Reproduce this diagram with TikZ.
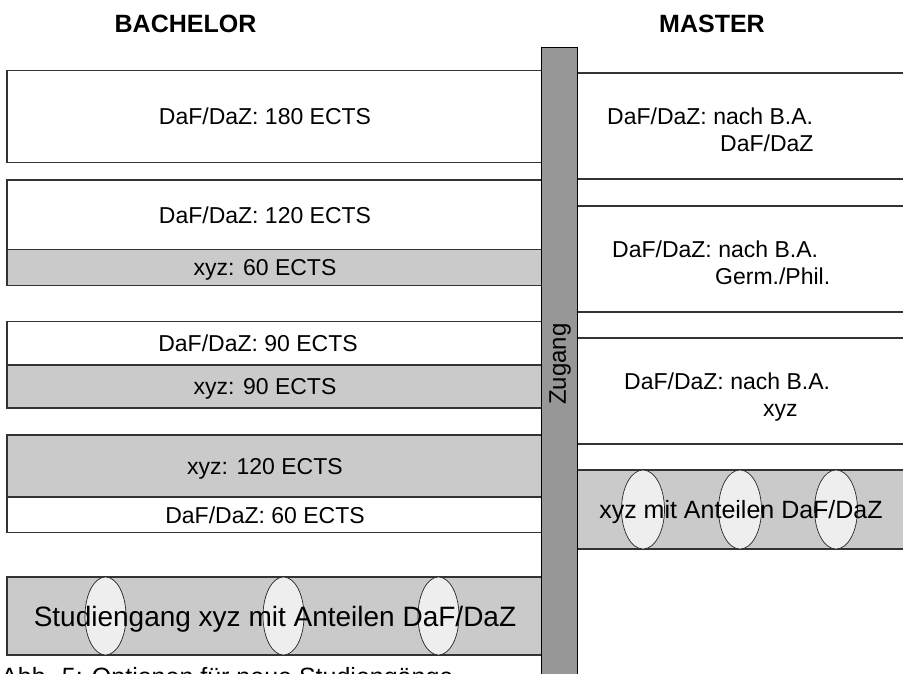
\documentclass[tikz,border=0pt]{standalone}
\usepackage{fontspec}
\setmainfont{Liberation Sans}
\usetikzlibrary{shapes.geometric}
\definecolor{lightgr}{HTML}{CACACA}
\definecolor{bargr}{HTML}{979797}
\definecolor{ovalgr}{HTML}{EEEEEE}
\definecolor{edge}{HTML}{333333}
\begin{document}
\begin{tikzpicture}[x=1pt,y=-1pt,
  wbox/.style={draw=edge,line width=1.3pt,fill=white},
  gbox/.style={draw=edge,line width=1.3pt,fill=lightgr},
  lbl/.style={font=\fontsize{23}{27}\selectfont,inner sep=0pt,anchor=base},
  mlbl/.style={font=\fontsize{23}{27}\selectfont,inner sep=0pt,anchor=base west},
  ttl/.style={font=\fontsize{25}{30}\selectfont\bfseries,inner sep=0pt},
  oval/.style={ellipse,draw=black!85,line width=0.7pt,fill=ovalgr,inner sep=0pt,minimum width=41pt,minimum height=78pt},
  barstyle/.style={draw=black,line width=1pt,fill=bargr}]
\clip (0,0) rectangle (903,673);
\fill[white] (0,0) rectangle (903,673);

% titles
\node[ttl] (tB) at (185.5,24) {BACHELOR};
\node[ttl] (tM) at (712,24) {MASTER};

% ---------- Bachelor ----------
\draw[wbox] (7,70.7) rectangle (560,162.5);
\node[lbl] (b1) at (265,124.8) {DaF/DaZ: 180 ECTS};

\draw[wbox] (7,180) rectangle (560,249.5);
\draw[gbox] (7,249.5) rectangle (560,285.5);
\node[lbl] (b2a) at (265,223) {DaF/DaZ: 120 ECTS};
\node[lbl] (b2b) at (265,275.7) {xyz: 60 ECTS};

\draw[wbox] (7,321.5) rectangle (560,365);
\draw[gbox] (7,365) rectangle (560,408);
\node[lbl] (b3a) at (258,351.5) {DaF/DaZ: 90 ECTS};
\node[lbl] (b3b) at (265,394.7) {xyz: 90 ECTS};

\draw[gbox] (7,435) rectangle (560,497);
\draw[wbox] (7,497) rectangle (560,532.5);
\node[lbl] (b4a) at (265,474.2) {xyz: 120 ECTS};
\node[lbl] (b4b) at (265,523) {DaF/DaZ: 60 ECTS};

\draw[gbox] (7,577) rectangle (560,655);
\node[oval] (e1) at (105.5,616) {};
\node[oval] (e2) at (283.5,616) {};
\node[oval] (e3) at (438.5,616) {};
\node[font=\fontsize{28}{32}\selectfont,inner sep=0pt,anchor=base] (b5) at (275,626) {Studiengang xyz mit Anteilen DaF/DaZ};

% caption (cut off at the bottom edge, as in the source)
\node[font=\fontsize{25}{30}\selectfont,inner sep=0pt,anchor=base west] (cap) at (1,685) {Abb. 5: Optionen für neue Studiengänge};

% ---------- Master ----------
\draw[wbox] (560,73) rectangle (920,179);
\node[mlbl] (m1a) at (607,124) {DaF/DaZ: nach B.A.};
\node[mlbl] (m1b) at (720,151) {DaF/DaZ};

\draw[wbox] (560,206) rectangle (920,312);
\node[mlbl] (m2a) at (612,257) {DaF/DaZ: nach B.A.};
\node[mlbl] (m2b) at (715,284) {Germ./Phil.};

\draw[wbox] (560,338) rectangle (920,444);
\node[mlbl] (m3a) at (624,389) {DaF/DaZ: nach B.A.};
\node[mlbl] (m3b) at (763,416) {xyz};

\draw[gbox] (560,470) rectangle (920,549);
\node[oval,minimum width=43pt,minimum height=79pt] (f1) at (643,509.5) {};
\node[oval,minimum width=43pt,minimum height=79pt] (f2) at (740,509.5) {};
\node[oval,minimum width=43pt,minimum height=79pt] (f3) at (836,509.5) {};
\node[font=\fontsize{25}{30}\selectfont,inner sep=0pt,anchor=base] (m4) at (741,518.5) {xyz mit Anteilen DaF/DaZ};

% ---------- Zugang bar ----------
\draw[barstyle] (541.5,47) rectangle (577.7,690);
\node[font=\fontsize{24}{28}\selectfont,inner sep=0pt,rotate=90] (zug) at (560,364) {Zugang};
\end{tikzpicture}
\end{document}
